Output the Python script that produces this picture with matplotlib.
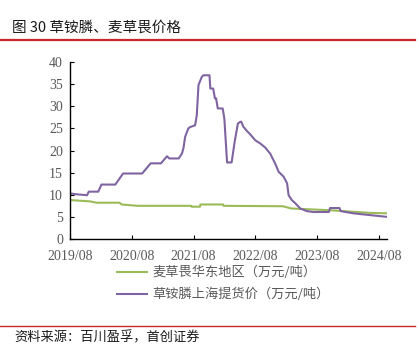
import matplotlib.pyplot as plt
import pandas as pd
from matplotlib.lines import Line2D

plt.rcParams['font.family'] = ['Noto Sans CJK SC', 'DejaVu Sans']

# 草铵膦上海提货价（万元/吨）
glu_dates = ['2019-08-01', '2019-09-10', '2019-11-10', '2019-11-20', '2020-01-15',
             '2020-02-03', '2020-04-25', '2020-06-10', '2020-10-01', '2020-11-20',
             '2021-01-20', '2021-02-25', '2021-03-10', '2021-05-05', '2021-05-24',
             '2021-06-02', '2021-06-12', '2021-07-01', '2021-07-12', '2021-08-10',
             '2021-08-20', '2021-08-30', '2021-09-18', '2021-09-28', '2021-11-03',
             '2021-11-08', '2021-11-25', '2021-12-05', '2021-12-12', '2021-12-22',
             '2022-01-20', '2022-01-30', '2022-02-15', '2022-03-14', '2022-04-01',
             '2022-04-20', '2022-05-05', '2022-05-10', '2022-05-22', '2022-06-10',
             '2022-07-01', '2022-08-01', '2022-08-30', '2022-09-28', '2022-10-28',
             '2022-11-26', '2022-12-17', '2023-01-15', '2023-02-05', '2023-02-14',
             '2023-03-05', '2023-03-25', '2023-04-24', '2023-06-02', '2023-07-10',
             '2023-10-10', '2023-10-17', '2023-12-12', '2023-12-19', '2024-03-03',
             '2024-06-10', '2024-09-18']
glu_vals = [10.3, 10.1, 9.9, 10.7, 10.7,
            12.3, 12.3, 14.8, 14.8, 17.1,
            17.1, 18.7, 18.2, 18.2, 19.3,
            20.5, 23.1, 25.0, 25.3, 25.7,
            28.0, 34.8, 36.6, 37.0, 37.0,
            34.0, 34.0, 31.8, 31.8, 29.5,
            29.5, 27.2, 17.3, 17.3, 22.0,
            26.1, 26.5, 26.5, 25.4, 24.5,
            23.7, 22.3, 21.6, 20.7, 19.3,
            17.1, 15.2, 14.1, 12.6, 9.9,
            8.8, 8.1, 6.9, 6.3, 6.1,
            6.1, 7.0, 7.0, 6.3, 5.8,
            5.4, 5.0]

# 麦草畏华东地区（万元/吨）
dic_dates = ['2019-08-01', '2019-11-27', '2020-01-05', '2020-05-20', '2020-06-01',
             '2020-09-05', '2021-07-18', '2021-07-20', '2021-09-08', '2021-09-10',
             '2022-01-23', '2022-01-25', '2023-01-12', '2023-03-01', '2023-04-24',
             '2023-10-17', '2024-06-10', '2024-09-18']
dic_vals = [8.8, 8.5, 8.2, 8.2, 7.8,
            7.5, 7.5, 7.3, 7.3, 7.8,
            7.8, 7.5, 7.4, 6.9, 6.8,
            6.5, 5.9, 5.8]

tick_labels = ['2019/08', '2020/08', '2021/08', '2022/08', '2023/08', '2024/08']

purple = '#8064a2'
green = '#9bbb59'
grey = '#595959'

fig = plt.figure(figsize=(4.19, 3.46), dpi=100)
ax = fig.add_axes([70/419, 1-239/346, 317/419, 177/346])

ax.plot(pd.to_datetime(dic_dates), dic_vals, color=green, lw=1.5)
ax.plot(pd.to_datetime(glu_dates), glu_vals, color=purple, lw=1.5)

ax.set_xlim(pd.Timestamp('2019-08-01'), pd.Timestamp('2024-09-18'))
ax.set_ylim(0, 40)
ax.set_yticks(range(0, 41, 5))
ticks = pd.to_datetime([t.replace('/', '-') + '-01' for t in tick_labels])
ax.set_xticks(ticks)
ax.set_xticklabels(tick_labels)

for s in ['top', 'right']:
    ax.spines[s].set_visible(False)
for s in ['left', 'bottom']:
    ax.spines[s].set_color('#000000')
    ax.spines[s].set_linewidth(1.0)
ax.tick_params(direction='in', length=3, width=0.8, colors='#000000',
               labelcolor=grey, labelsize=10, labelfontfamily='Liberation Serif')
ax.tick_params(axis='x', pad=8)
ax.tick_params(axis='y', pad=5)

# legend
handles = [Line2D([], [], color=green, lw=1.5), Line2D([], [], color=purple, lw=1.5)]
leg = fig.legend(handles, ['麦草畏华东地区（万元/吨）', '草铵膦上海提货价（万元/吨）'],
                 loc='upper left', bbox_to_anchor=(105/419, 1-254/346), frameon=False,
                 fontsize=9.5, handlelength=2.3, handletextpad=0.4, labelspacing=0.65)
for t in leg.get_texts():
    t.set_color(grey)

# title and source
fig.text(12/419, 1-28/346, '图 30 草铵膦、麦草畏价格', fontsize=10.5, color='#1a1a1a',
         va='center', ha='left')
fig.add_artist(Line2D([0, 415/419], [1-40/346, 1-40/346], color='#c8282d', lw=1.6))
fig.add_artist(Line2D([0, 415/419], [1-326/346, 1-326/346], color='#c8282d', lw=1.0))
fig.text(14/419, 1-338/346, '资料来源：百川盈孚，首创证券', fontsize=9.5, color='#1a1a1a',
         va='center', ha='left', style='italic')

fig.savefig('out.png', dpi=100)
